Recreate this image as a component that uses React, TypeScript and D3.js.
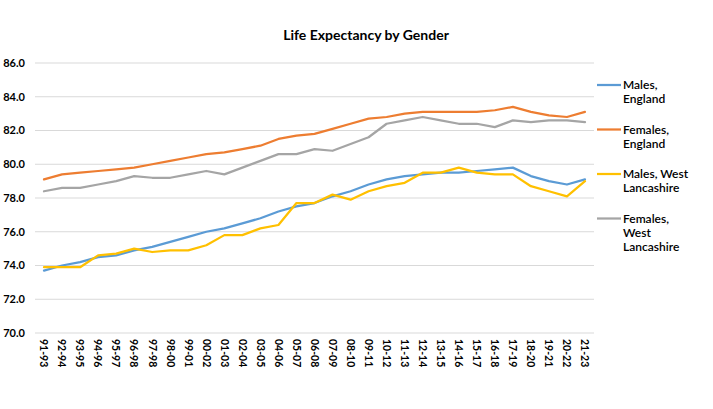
import { useEffect, useRef } from 'react';
import * as d3 from 'd3';

const periods = [
  '91-93', '92-94', '93-95', '94-96', '95-97', '96-98', '97-98', '98-00', '99-01', '00-02',
  '01-03', '02-04', '03-05', '04-06', '05-07', '06-08', '07-09', '08-10', '09-11', '10-12',
  '11-13', '12-14', '13-15', '14-16', '15-17', '16-18', '17-19', '18-20', '19-21', '20-22', '21-23',
];

const malesEngland = [
  73.7, 74.0, 74.2, 74.5, 74.6, 74.9, 75.1, 75.4, 75.7, 76.0, 76.2, 76.5, 76.8, 77.2, 77.5, 77.7,
  78.1, 78.4, 78.8, 79.1, 79.3, 79.4, 79.5, 79.5, 79.6, 79.7, 79.8, 79.3, 79.0, 78.8, 79.1,
];
const femalesEngland = [
  79.1, 79.4, 79.5, 79.6, 79.7, 79.8, 80.0, 80.2, 80.4, 80.6, 80.7, 80.9, 81.1, 81.5, 81.7, 81.8,
  82.1, 82.4, 82.7, 82.8, 83.0, 83.1, 83.1, 83.1, 83.1, 83.2, 83.4, 83.1, 82.9, 82.8, 83.1,
];
const malesWestLancs = [
  73.9, 73.9, 73.9, 74.6, 74.7, 75.0, 74.8, 74.9, 74.9, 75.2, 75.8, 75.8, 76.2, 76.4, 77.7, 77.7,
  78.2, 77.9, 78.4, 78.7, 78.9, 79.5, 79.5, 79.8, 79.5, 79.4, 79.4, 78.7, 78.4, 78.1, 79.0,
];
const femalesWestLancs = [
  78.4, 78.6, 78.6, 78.8, 79.0, 79.3, 79.2, 79.2, 79.4, 79.6, 79.4, 79.8, 80.2, 80.6, 80.6, 80.9,
  80.8, 81.2, 81.6, 82.4, 82.6, 82.8, 82.6, 82.4, 82.4, 82.2, 82.6, 82.5, 82.6, 82.6, 82.5,
];

const yTicks = [70, 72, 74, 76, 78, 80, 82, 84, 86];

const seriesNames = [
  ['Males,', 'England'],
  ['Females,', 'England'],
  ['Males, West', 'Lancashire'],
  ['Females,', 'West', 'Lancashire'],
];
const seriesValues = [malesEngland, femalesEngland, malesWestLancs, femalesWestLancs];
const seriesColors = ['#5B9BD5', '#ED7D31', '#FFC000', '#A5A5A5'];

const FONT = 'Lato, "Open Sans", sans-serif';

const App = () => {
  const svgRef = useRef<SVGSVGElement>(null);

  useEffect(() => {
    const svg = d3.select(svgRef.current);
    svg.selectAll('*').remove();

    const width = 713;
    const height = 409;
    const plot = { left: 35, right: 594, top: 63, bottom: 333 };

    svg.append('rect').attr('width', width).attr('height', height).attr('fill', '#fff');

    const x = d3.scaleBand().domain(periods).range([plot.left, plot.right]);
    const y = d3.scaleLinear().domain([70, 86]).range([plot.bottom, plot.top]);
    const cx = (p: string) => (x(p) as number) + x.bandwidth() / 2;

    // horizontal gridlines
    svg.append('g')
      .selectAll('line')
      .data(yTicks)
      .enter()
      .append('line')
      .attr('x1', plot.left)
      .attr('x2', plot.right)
      .attr('y1', (d) => y(d))
      .attr('y2', (d) => y(d))
      .attr('stroke', '#D9D9D9')
      .attr('stroke-width', 1);

    // y axis labels
    svg.append('g')
      .selectAll('text')
      .data(yTicks)
      .enter()
      .append('text')
      .attr('x', 25)
      .attr('y', (d) => y(d))
      .attr('dy', '0.35em')
      .attr('text-anchor', 'end')
      .attr('font-family', FONT)
      .attr('font-size', '11px')
      .attr('font-weight', 'bold')
      .attr('fill', '#000')
      .text((d) => d.toFixed(1));

    // x axis labels, rotated to read downwards
    svg.append('g')
      .selectAll('text')
      .data(periods)
      .enter()
      .append('text')
      .attr('transform', (d) => `translate(${cx(d)},${plot.bottom + 6}) rotate(90)`)
      .attr('dy', '0.35em')
      .attr('text-anchor', 'start')
      .attr('font-family', FONT)
      .attr('font-size', '10.5px')
      .attr('font-weight', 'bold')
      .attr('fill', '#000')
      .text((d) => d);

    const line = d3
      .line<number>()
      .x((_, i) => cx(periods[i]))
      .y((d) => y(d));

    // draw grey last so it sits like the original ordering (blue, orange, grey, yellow)
    [0, 1, 3, 2].forEach((s) => {
      svg.append('path')
        .datum(seriesValues[s])
        .attr('fill', 'none')
        .attr('stroke', seriesColors[s])
        .attr('stroke-width', 2.25)
        .attr('stroke-linejoin', 'round')
        .attr('stroke-linecap', 'round')
        .attr('d', line);
    });

    // legend
    const legendY = [85, 129.5, 174, 218.5];
    seriesNames.forEach((lines, s) => {
      const row = svg.append('g').attr('transform', `translate(597,${legendY[s]})`);
      row.append('line')
        .attr('x1', 0)
        .attr('x2', 24)
        .attr('y1', 0)
        .attr('y2', 0)
        .attr('stroke', seriesColors[s])
        .attr('stroke-width', 2.25);
      lines.forEach((t, k) => {
        row.append('text')
          .attr('x', 26)
          .attr('y', k * 14)
          .attr('dy', '0.35em')
          .attr('font-family', FONT)
          .attr('font-size', '12px')
          .attr('font-weight', 600)
          .attr('fill', '#000')
          .text(t);
      });
    });

    svg.append('text')
      .attr('x', 366)
      .attr('y', 35)
      .attr('dy', '0.35em')
      .attr('text-anchor', 'middle')
      .attr('font-family', FONT)
      .attr('font-size', '14px')
      .attr('font-weight', 'bold')
      .attr('fill', '#000')
      .text('Life Expectancy by Gender');
  }, []);

  return (
    <div style={{ position: 'absolute', left: 0, top: 0 }}>
      <svg ref={svgRef} width={713} height={409} style={{ display: 'block' }}></svg>
    </div>
  );
};

export default App;
